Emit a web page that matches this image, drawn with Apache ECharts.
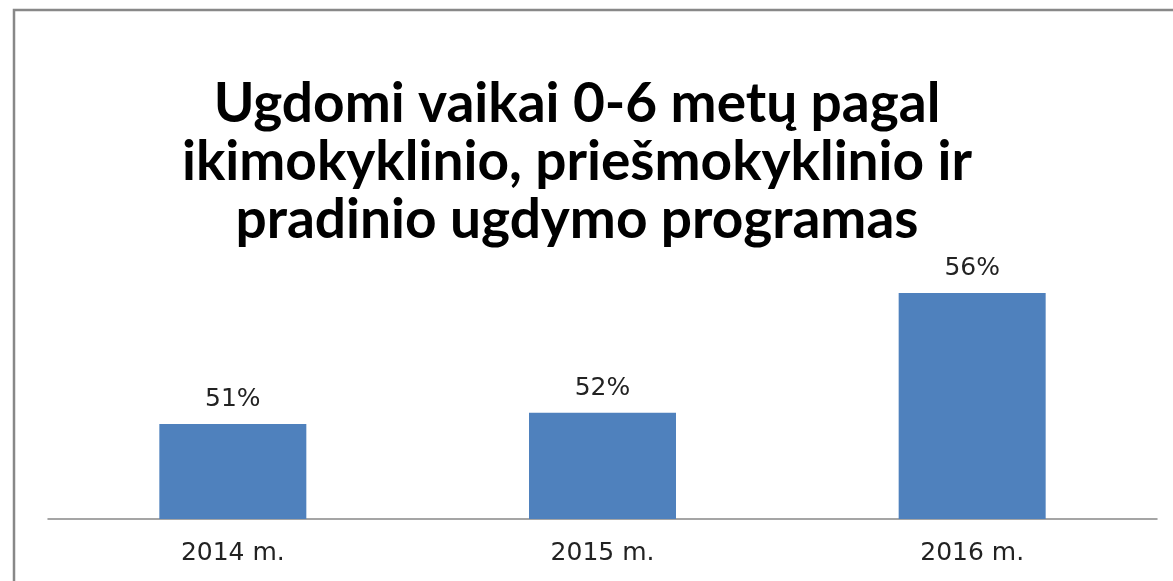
<!DOCTYPE html>
<html>
<head>
<meta charset="utf-8">
<script src="https://cdn.jsdelivr.net/npm/echarts@6/dist/echarts.min.js"></script>
<style>
  html, body { margin: 0; padding: 0; background: #fff; }
  #chart { width: 1173px; height: 581px; }
</style>
</head>
<body>
<div id="chart"></div>
<script>
// chart data
const years = ['2014 m.', '2015 m.', '2016 m.'];
const shares = [51.28, 51.66, 55.79];

const chart = echarts.init(document.getElementById('chart'));

chart.setOption({
  animation: false,
  title: {
    text: 'Ugdomi vaikai 0-6 metų pagal\nikimokyklinio, priešmokyklinio ir\npradinio ugdymo programas',
    left: 572,
    textAlign: 'center',
    top: 70,
    textStyle: {
      fontFamily: 'Lato',
      fontWeight: 'bold',
      fontSize: 55,
      lineHeight: 58,
      color: '#000'
    }
  },
  graphic: [{
    type: 'rect',
    shape: { x: 14, y: 10, width: 1200, height: 600 },
    style: { fill: 'none', stroke: '#888', lineWidth: 2.5 },
    silent: true
  }],
  grid: { left: 48, right: 16, top: 171, bottom: 62 },
  xAxis: {
    type: 'category',
    data: years,
    axisLine: { lineStyle: { color: '#888', width: 1.5 } },
    axisTick: { show: false },
    axisLabel: {
      fontFamily: 'DejaVu Sans',
      fontSize: 25,
      color: '#222',
      margin: 22
    }
  },
  yAxis: {
    type: 'value',
    min: 48,
    max: 60,
    show: false,
    splitLine: { show: false }
  },
  series: [{
    type: 'bar',
    data: shares,
    barWidth: 147,
    itemStyle: { color: '#4F81BD' },
    label: {
      show: true,
      position: 'top',
      distance: 12,
      fontFamily: 'DejaVu Sans',
      fontSize: 25,
      color: '#222',
      formatter: p => Math.round(p.value) + '%'
    }
  }]
});
</script>
</body>
</html>
